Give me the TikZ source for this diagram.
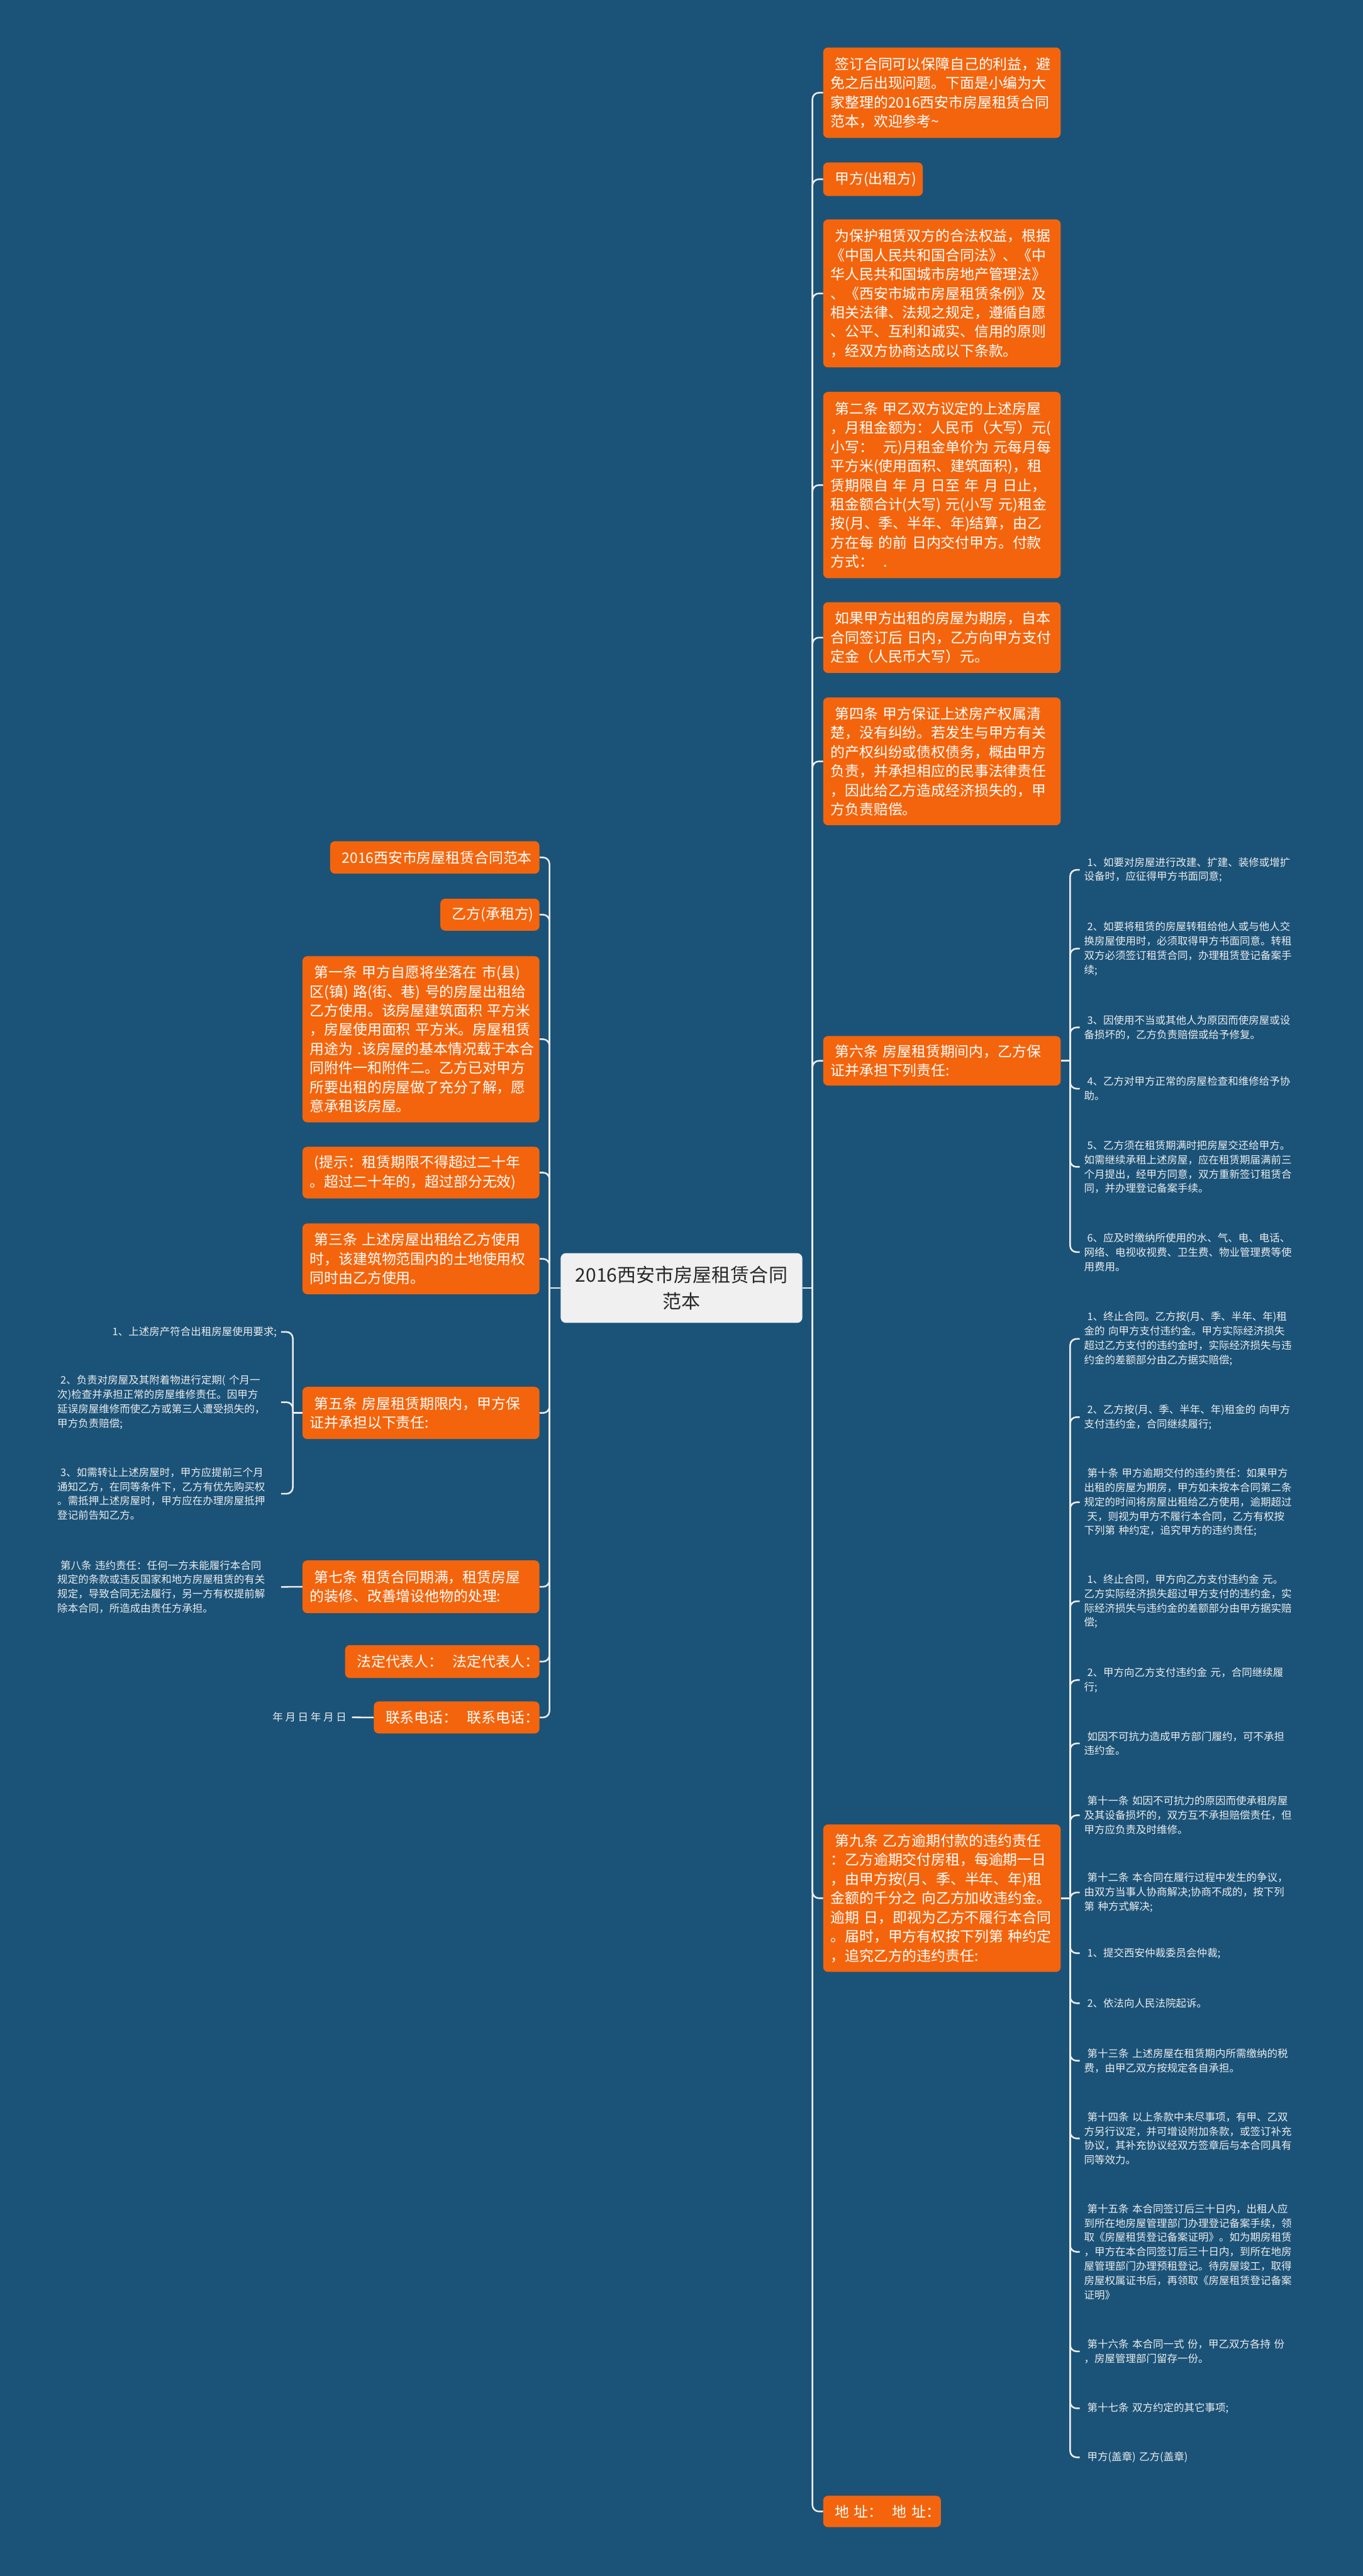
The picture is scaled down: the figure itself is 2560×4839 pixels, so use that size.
\documentclass[tikz,border=0pt]{standalone}
\usepackage{fontspec}
\setmainfont{Noto Sans CJK SC}
\definecolor{bg}{RGB}{27,83,120}
\definecolor{org}{RGB}{244,100,12}
\definecolor{lf}{RGB}{236,236,236}
\definecolor{cbox}{RGB}{240,240,240}
\definecolor{ctext}{RGB}{40,40,40}
\newcommand\ind{\hspace*{0.3em}}
\tikzset{
  obox/.style={fill=org, rounded corners=9pt, text=white, font=\fontsize{27}{36}\selectfont,
    align=left, inner xsep=14pt, inner ysep=0pt, anchor=north west},
  leaftext/.style={text=lf, font=\fontsize{19.5}{27}\selectfont, inner xsep=8pt, inner ysep=0pt},
  leafr/.style={leaftext, align=left, anchor=west, text width=400pt},
  leafl/.style={leaftext, align=left, anchor=east, text width=412pt},
  conn/.style={draw=white!93!black, line width=3pt, rounded corners=12pt},
  cnode/.style={fill=cbox, rounded corners=10pt, text=ctext, font=\fontsize{35.5}{50}\selectfont,
    align=center, inner sep=0pt, minimum width=454pt, minimum height=131pt}
}
\begin{document}
\begin{tikzpicture}[x=1pt,y=-1pt]
\fill[bg] (0,0) rectangle (2560,4839);
\useasboundingbox (0,0) rectangle (2560,4839);

\coordinate (rt) at (1526,0);
\coordinate (lt) at (1032,0);
\coordinate (t6) at (2010,0);
\coordinate (t9) at (2010,0);
\coordinate (t5) at (550,0);

% centre
\node[cnode] (ctr) at (1280,2419.5) {2016西安市房屋租赁合同\\范本};

% right boxes
\node[obox, text width=418pt, minimum height=170pt] (R1) at (1546,89) {\ind 签订合同可以保障自己的利益，避\\免之后出现问题。下面是小编为大\\家整理的2016西安市房屋租赁合同\\范本，欢迎参考\textasciitilde};
\node[obox, text width=159pt, minimum height=63pt] (R2) at (1546,305) {\ind 甲方(出租方)};
\node[obox, text width=418pt, minimum height=278pt] (R3) at (1546,412) {\ind 为保护租赁双方的合法权益，根据\\《中国人民共和国合同法》、《中\\华人民共和国城市房地产管理法》\\、《西安市城市房屋租赁条例》及\\相关法律、法规之规定，遵循自愿\\、公平、互利和诚实、信用的原则\\，经双方协商达成以下条款。};
\node[obox, text width=418pt, minimum height=350pt] (R4) at (1546,736) {\ind 第二条~甲乙双方议定的上述房屋\\，月租金额为：人民币（大写）元(\\小写：~~元)月租金单价为~元每月每\\平方米(使用面积、建筑面积)，租\\赁期限自~年~月~日至~年~月~日止，\\租金额合计(大写)~元(小写~元)租金\\按(月、季、半年、年)结算，由乙\\方在每~的前~日内交付甲方。付款\\方式：~~.};
\node[obox, text width=418pt, minimum height=133pt] (R5) at (1546,1131) {\ind 如果甲方出租的房屋为期房，自本\\合同签订后~日内，乙方向甲方支付\\定金（人民币大写）元。};
\node[obox, text width=418pt, minimum height=240pt] (R6) at (1546,1310) {\ind 第四条~甲方保证上述房产权属清\\楚，没有纠纷。若发生与甲方有关\\的产权纠纷或债权债务，概由甲方\\负责，并承担相应的民事法律责任\\，因此给乙方造成经济损失的，甲\\方负责赔偿。};
\node[obox, text width=418pt, minimum height=93pt] (R7) at (1546,1946) {\ind 第六条~房屋租赁期间内，乙方保\\证并承担下列责任:};
\node[obox, text width=418pt, minimum height=277pt] (R8) at (1546,3427) {\ind 第九条~乙方逾期付款的违约责任\\：乙方逾期交付房租，每逾期一日\\，由甲方按(月、季、半年、年)租\\金额的千分之~向乙方加收违约金。\\逾期~日，即视为乙方不履行本合同\\。届时，甲方有权按下列第~种约定\\，追究乙方的违约责任:};
\node[obox, text width=193pt, minimum height=59pt] (R9) at (1546,4688) {\ind 地~址：~~地~址：};

% left boxes
\node[obox, text width=365pt, minimum height=61pt] (L1) at (620,1580) {\ind 2016西安市房屋租赁合同范本};
\node[obox, text width=158pt, minimum height=60pt] (L2) at (827,1688) {\ind 乙方(承租方)};
\node[obox, text width=417pt, minimum height=312pt] (L3) at (568,1796) {\ind 第一条~甲方自愿将坐落在~市(县)\\区(镇)~路(街、巷)~号的房屋出租给\\乙方使用。该房屋建筑面积~平方米\\，房屋使用面积~平方米。房屋租赁\\用途为~.该房屋的基本情况载于本合\\同附件一和附件二。乙方已对甲方\\所要出租的房屋做了充分了解，愿\\意承租该房屋。};
\node[obox, text width=417pt, minimum height=97pt] (L4) at (568,2154) {\ind (提示：租赁期限不得超过二十年\\。超过二十年的，超过部分无效)};
\node[obox, text width=417pt, minimum height=133pt] (L5) at (568,2298) {\ind 第三条~上述房屋出租给乙方使用\\时，该建筑物范围内的土地使用权\\同时由乙方使用。};
\node[obox, text width=417pt, minimum height=98pt] (L6) at (568,2605) {\ind 第五条~房屋租赁期限内，甲方保\\证并承担以下责任:};
\node[obox, text width=417pt, minimum height=99pt] (L7) at (568,2931) {\ind 第七条~租赁合同期满，租赁房屋\\的装修、改善增设他物的处理:};
\node[obox, text width=337pt, minimum height=62pt] (L8) at (648,3090) {\ind 法定代表人：~~法定代表人：};
\node[obox, text width=283pt, minimum height=60pt] (L9) at (702,3196) {\ind 联系电话：~~联系电话：};

% right leaves of 第六条
\node[leafr] (A1) at (2028,1634) {\ind 1、如要对房屋进行改建、扩建、装修或增扩\\设备时，应征得甲方书面同意;};
\node[leafr] (A2) at (2028,1782) {\ind 2、如要将租赁的房屋转租给他人或与他人交\\换房屋使用时，必须取得甲方书面同意。转租\\双方必须签订租赁合同，办理租赁登记备案手\\续;};
\node[leafr] (A3) at (2028,1930) {\ind 3、因使用不当或其他人为原因而使房屋或设\\备损坏的，乙方负责赔偿或给予修复。};
\node[leafr] (A4) at (2028,2045) {\ind 4、乙方对甲方正常的房屋检查和维修给予协\\助。};
\node[leafr] (A5) at (2028,2192) {\ind 5、乙方须在租赁期满时把房屋交还给甲方。\\如需继续承租上述房屋，应在租赁期届满前三\\个月提出，经甲方同意，双方重新签订租赁合\\同，并办理登记备案手续。};
\node[leafr] (A6) at (2028,2352) {\ind 6、应及时缴纳所使用的水、气、电、电话、\\网络、电视收视费、卫生费、物业管理费等使\\用费用。};

% right leaves of 第九条
\node[leafr] (B1) at (2028,2515) {\ind 1、终止合同。乙方按(月、季、半年、年)租\\金的~向甲方支付违约金。甲方实际经济损失\\超过乙方支付的违约金时，实际经济损失与违\\约金的差额部分由乙方据实赔偿;};
\node[leafr] (B2) at (2028,2662) {\ind 2、乙方按(月、季、半年、年)租金的~向甲方\\支付违约金，合同继续履行;};
\node[leafr] (B3) at (2028,2822) {\ind 第十条~甲方逾期交付的违约责任：如果甲方\\出租的房屋为期房，甲方如未按本合同第二条\\规定的时间将房屋出租给乙方使用，逾期超过\\\ind 天，则视为甲方不履行本合同，乙方有权按\\下列第~种约定，追究甲方的违约责任;};
\node[leafr] (B4) at (2028,3008) {\ind 1、终止合同，甲方向乙方支付违约金~元。\\乙方实际经济损失超过甲方支付的违约金，实\\际经济损失与违约金的差额部分由甲方据实赔\\偿;};
\node[leafr] (B5) at (2028,3156) {\ind 2、甲方向乙方支付违约金~元，合同继续履\\行;};
\node[leafr] (B6) at (2028,3275) {\ind 如因不可抗力造成甲方部门履约，可不承担\\违约金。};
\node[leafr] (B7) at (2028,3410) {\ind 第十一条~如因不可抗力的原因而使承租房屋\\及其设备损坏的，双方互不承担赔偿责任，但\\甲方应负责及时维修。};
\node[leafr] (B8) at (2028,3555) {\ind 第十二条~本合同在履行过程中发生的争议，\\由双方当事人协商解决;协商不成的，按下列\\第~种方式解决;};
\node[leafr] (B9) at (2028,3669) {\ind 1、提交西安仲裁委员会仲裁;};
\node[leafr] (B10) at (2028,3763) {\ind 2、依法向人民法院起诉。};
\node[leafr] (B11) at (2028,3871) {\ind 第十三条~上述房屋在租赁期内所需缴纳的税\\费，由甲乙双方按规定各自承担。};
\node[leafr] (B12) at (2028,4017) {\ind 第十四条~以上条款中未尽事项，有甲、乙双\\方另行议定，并可增设附加条款，或签订补充\\协议，其补充协议经双方签章后与本合同具有\\同等效力。};
\node[leafr] (B13) at (2028,4230) {\ind 第十五条~本合同签订后三十日内，出租人应\\到所在地房屋管理部门办理登记备案手续，领\\取《房屋租赁登记备案证明》。如为期房租赁\\，甲方在本合同签订后三十日内，到所在地房\\屋管理部门办理预租登记。待房屋竣工，取得\\房屋权属证书后，再领取《房屋租赁登记备案\\证明》};
\node[leafr] (B14) at (2028,4417) {\ind 第十六条~本合同一式~份，甲乙双方各持~份\\，房屋管理部门留存一份。};
\node[leafr] (B15) at (2028,4524) {\ind 第十七条~双方约定的其它事项;};
\node[leafr] (B16) at (2028,4616) {\ind 甲方(盖章)~乙方(盖章)};

% left leaves
\node[leafl, align=right] (C1) at (528,2502) {\ind 1、上述房产符合出租房屋使用要求;};
\node[leafl] (C2) at (528,2634) {\ind 2、负责对房屋及其附着物进行定期(~个月一\\次)检查并承担正常的房屋维修责任。因甲方\\延误房屋维修而使乙方或第三人遭受损失的，\\甲方负责赔偿;};
\node[leafl] (C3) at (528,2806) {\ind 3、如需转让上述房屋时，甲方应提前三个月\\通知乙方，在同等条件下，乙方有优先购买权\\。需抵押上述房屋时，甲方应在办理房屋抵押\\登记前告知乙方。};
\node[leafl] (C4) at (528,2981) {\ind 第八条~违约责任：任何一方未能履行本合同\\规定的条款或违反国家和地方房屋租赁的有关\\规定，导致合同无法履行，另一方有权提前解\\除本合同，所造成由责任方承担。};
\node[leaftext, anchor=east, inner xsep=10pt] (C5) at (661,3226) {年 月 日 年 月 日};

% connectors: centre to trunks
\draw[conn] (ctr.east) -- (ctr.east -| rt);
\draw[conn] (ctr.west) -- (ctr.west -| lt);
\foreach \n in {R1,R2,R3,R4,R5,R6,R7,R8,R9}
  \draw[conn] (ctr.east -| rt) |- (\n.west);
\foreach \n in {L1,L2,L3,L4,L5,L6,L7,L8,L9}
  \draw[conn] (ctr.west -| lt) |- (\n.east);

% 第六条
\draw[conn] (R7.east) -- (R7.east -| t6);
\foreach \n in {A1,A2,A3,A4,A5,A6}
  \draw[conn] (R7.east -| t6) |- (\n.west);
% 第九条
\draw[conn] (R8.east) -- (R8.east -| t9);
\foreach \n in {B1,B2,B3,B4,B5,B6,B7,B8,B9,B10,B11,B12,B13,B14,B15,B16}
  \draw[conn] (R8.east -| t9) |- (\n.west);
% 第五条
\draw[conn] (L6.west) -- (L6.west -| t5);
\foreach \n in {C1,C2,C3}
  \draw[conn] (L6.west -| t5) |- (\n.east);
% 第七条, 联系电话
\draw[conn] (L7.west) -- (C4.east);
\draw[conn] (L9.west) -- (C5.east);
\end{tikzpicture}
\end{document}
